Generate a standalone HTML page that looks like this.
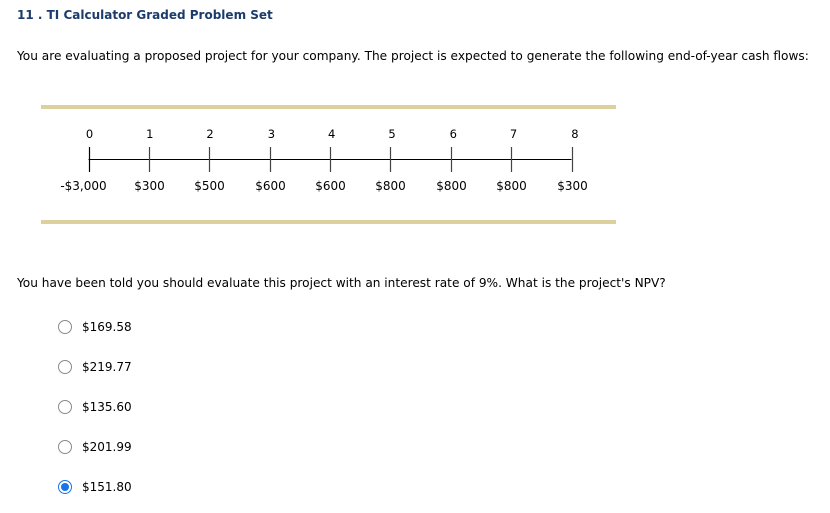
<!DOCTYPE html>
<html><head><meta charset="utf-8"><style>
body{margin:0;width:830px;height:513px;background:#fff;font-family:"DejaVu Sans","Liberation Sans",sans-serif;color:#000;position:relative;overflow:hidden}
.a{position:absolute;white-space:nowrap}
.bar{position:absolute;left:41px;width:575px;height:4px;background:#dcd09f}
.radio{position:absolute;left:58px;width:12px;height:12px;border:1px solid #8a8a8a;border-radius:50%;background:#fff}
.radio.on{border:1px solid #1a73e8;}
.radio.on::after{content:"";position:absolute;left:2px;top:2px;width:8px;height:8px;border-radius:50%;background:#1a73e8}
.opt{position:absolute;left:82px;font-size:12px}
</style></head><body>
<div class="a" style="left:17px;top:8px;font-size:12px;font-weight:bold;color:#1b3c6b">11 . TI Calculator Graded Problem Set</div>
<div class="a" style="left:17px;top:49px;font-size:12.15px">You are evaluating a proposed project for your company. The project is expected to generate the following end-of-year cash flows:</div>
<div class="bar" style="top:105px"></div>
<svg class="a" id="tl" style="left:0;top:0" width="830" height="513"></svg>
<div class="bar" style="top:220px"></div>
<div class="a" style="left:17px;top:276px;font-size:12.15px">You have been told you should evaluate this project with an interest rate of 9%. What is the project's NPV?</div>

<div class="radio" style="top:320px"></div><div class="opt" style="top:320px">$169.58</div>
<div class="radio" style="top:360px"></div><div class="opt" style="top:360px">$219.77</div>
<div class="radio" style="top:400px"></div><div class="opt" style="top:400px">$135.60</div>
<div class="radio" style="top:440px"></div><div class="opt" style="top:440px">$201.99</div>
<div class="radio on" style="top:480px"></div><div class="opt" style="top:480px">$151.80</div>

<script>
const periods = ["0","1","2","3","4","5","6","7","8"];
const cashFlows = ["-$3,000","$300","$500","$600","$600","$800","$800","$800","$300"];
const svg = document.getElementById('tl');
const NS = 'http://www.w3.org/2000/svg';
const x0 = 88.5, x1 = 571.5;
function xPos(i){ return x0 + (x1 - x0) * i / (periods.length - 1); }
const axis = document.createElementNS(NS,'line');
axis.setAttribute('x1', xPos(0)); axis.setAttribute('x2', xPos(periods.length-1));
axis.setAttribute('y1', 159.5); axis.setAttribute('y2', 159.5);
axis.setAttribute('stroke','#000'); axis.setAttribute('stroke-width','1');


svg.appendChild(axis);
periods.forEach((p,i)=>{
  const x = Math.round(xPos(i)) + 0.5;
  const t = document.createElementNS(NS,'line');
  t.setAttribute('x1',x); t.setAttribute('x2',x); t.setAttribute('y1',147); t.setAttribute('y2',172);
  t.setAttribute('stroke', i===0 ? '#000' : '#444'); t.setAttribute('stroke-width','1.2');
  
  
  svg.appendChild(t);
  const lb = document.createElementNS(NS,'text');
  lb.setAttribute('x', x - (i===0?0:-(i*0.3))); lb.setAttribute('y', 138);
  lb.setAttribute('text-anchor','middle'); lb.setAttribute('font-size','11.5');
  lb.setAttribute('font-family','DejaVu Sans, sans-serif');
  lb.textContent = p;
  
  
  svg.appendChild(lb);
  const cf = document.createElementNS(NS,'text');
  cf.setAttribute('x', i===0 ? x - 6 : x); cf.setAttribute('y', 190);
  cf.setAttribute('text-anchor','middle'); cf.setAttribute('font-size','12');
  cf.setAttribute('font-family','DejaVu Sans, sans-serif');
  cf.textContent = cashFlows[i];
  
  
  svg.appendChild(cf);
});
</script>
</body></html>
